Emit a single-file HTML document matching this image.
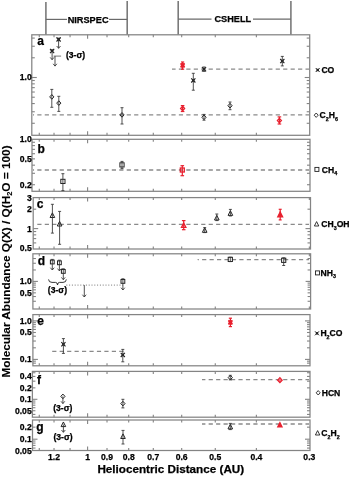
<!DOCTYPE html>
<html><head><meta charset="utf-8"><title>Molecular abundances vs heliocentric distance</title>
<style>
html,body{margin:0;padding:0;background:#fff;}
body{width:350px;height:477px;overflow:hidden;}
svg{display:block;font-family:'Liberation Sans', Arial, Helvetica, sans-serif;}
text{stroke:#000;stroke-width:0.25px;}
</style></head><body>
<svg width="350" height="477" viewBox="0 0 350 477">
<rect width="350" height="477" fill="#fff"/>
<line x1="45.90" y1="2.00" x2="45.90" y2="34.80" stroke="#7a7a7a" stroke-width="1.6" />
<line x1="127.20" y1="1.00" x2="127.20" y2="34.80" stroke="#7a7a7a" stroke-width="1.6" />
<line x1="45.90" y1="19.40" x2="67.00" y2="19.40" stroke="#6a6a6a" stroke-width="1.2" />
<line x1="109.00" y1="19.40" x2="127.20" y2="19.40" stroke="#6a6a6a" stroke-width="1.2" />
<text x="88.10" y="22.60" font-size="9.2" font-weight="bold" text-anchor="middle" >NIRSPEC</text>
<line x1="178.20" y1="1.00" x2="178.20" y2="34.80" stroke="#7a7a7a" stroke-width="1.6" />
<line x1="290.90" y1="1.00" x2="290.90" y2="34.80" stroke="#7a7a7a" stroke-width="1.6" />
<line x1="178.20" y1="19.20" x2="211.50" y2="19.20" stroke="#6a6a6a" stroke-width="1.2" />
<line x1="253.00" y1="19.20" x2="290.90" y2="19.20" stroke="#6a6a6a" stroke-width="1.2" />
<text x="232.80" y="22.40" font-size="9.2" font-weight="bold" text-anchor="middle" >CSHELL</text>
<rect x="31.80" y="34.80" width="277.90" height="100.50" fill="none" stroke="#848484" stroke-width="1.25"/>
<line x1="256.37" y1="34.80" x2="256.37" y2="37.30" stroke="#848484" stroke-width="1.1" />
<line x1="256.37" y1="135.30" x2="256.37" y2="132.80" stroke="#848484" stroke-width="1.1" />
<line x1="215.27" y1="34.80" x2="215.27" y2="37.30" stroke="#848484" stroke-width="1.1" />
<line x1="215.27" y1="135.30" x2="215.27" y2="132.80" stroke="#848484" stroke-width="1.1" />
<line x1="181.69" y1="34.80" x2="181.69" y2="37.30" stroke="#848484" stroke-width="1.1" />
<line x1="181.69" y1="135.30" x2="181.69" y2="132.80" stroke="#848484" stroke-width="1.1" />
<line x1="153.29" y1="34.80" x2="153.29" y2="37.30" stroke="#848484" stroke-width="1.1" />
<line x1="153.29" y1="135.30" x2="153.29" y2="132.80" stroke="#848484" stroke-width="1.1" />
<line x1="128.70" y1="34.80" x2="128.70" y2="37.30" stroke="#848484" stroke-width="1.1" />
<line x1="128.70" y1="135.30" x2="128.70" y2="132.80" stroke="#848484" stroke-width="1.1" />
<line x1="107.01" y1="34.80" x2="107.01" y2="37.30" stroke="#848484" stroke-width="1.1" />
<line x1="107.01" y1="135.30" x2="107.01" y2="132.80" stroke="#848484" stroke-width="1.1" />
<line x1="87.60" y1="34.80" x2="87.60" y2="38.80" stroke="#848484" stroke-width="1.1" />
<line x1="87.60" y1="135.30" x2="87.60" y2="131.30" stroke="#848484" stroke-width="1.1" />
<line x1="70.05" y1="34.80" x2="70.05" y2="37.30" stroke="#848484" stroke-width="1.1" />
<line x1="70.05" y1="135.30" x2="70.05" y2="132.80" stroke="#848484" stroke-width="1.1" />
<line x1="54.02" y1="34.80" x2="54.02" y2="37.30" stroke="#848484" stroke-width="1.1" />
<line x1="54.02" y1="135.30" x2="54.02" y2="132.80" stroke="#848484" stroke-width="1.1" />
<line x1="39.28" y1="34.80" x2="39.28" y2="37.30" stroke="#848484" stroke-width="1.1" />
<line x1="39.28" y1="135.30" x2="39.28" y2="132.80" stroke="#848484" stroke-width="1.1" />
<line x1="31.80" y1="123.28" x2="34.80" y2="123.28" stroke="#848484" stroke-width="1.1" />
<line x1="309.70" y1="123.28" x2="306.70" y2="123.28" stroke="#848484" stroke-width="1.1" />
<line x1="31.80" y1="111.75" x2="34.80" y2="111.75" stroke="#848484" stroke-width="1.1" />
<line x1="309.70" y1="111.75" x2="306.70" y2="111.75" stroke="#848484" stroke-width="1.1" />
<line x1="31.80" y1="103.57" x2="34.80" y2="103.57" stroke="#848484" stroke-width="1.1" />
<line x1="309.70" y1="103.57" x2="306.70" y2="103.57" stroke="#848484" stroke-width="1.1" />
<line x1="31.80" y1="97.22" x2="34.80" y2="97.22" stroke="#848484" stroke-width="1.1" />
<line x1="309.70" y1="97.22" x2="306.70" y2="97.22" stroke="#848484" stroke-width="1.1" />
<line x1="31.80" y1="92.03" x2="34.80" y2="92.03" stroke="#848484" stroke-width="1.1" />
<line x1="309.70" y1="92.03" x2="306.70" y2="92.03" stroke="#848484" stroke-width="1.1" />
<line x1="31.80" y1="87.65" x2="34.80" y2="87.65" stroke="#848484" stroke-width="1.1" />
<line x1="309.70" y1="87.65" x2="306.70" y2="87.65" stroke="#848484" stroke-width="1.1" />
<line x1="31.80" y1="83.85" x2="34.80" y2="83.85" stroke="#848484" stroke-width="1.1" />
<line x1="309.70" y1="83.85" x2="306.70" y2="83.85" stroke="#848484" stroke-width="1.1" />
<line x1="31.80" y1="80.50" x2="34.80" y2="80.50" stroke="#848484" stroke-width="1.1" />
<line x1="309.70" y1="80.50" x2="306.70" y2="80.50" stroke="#848484" stroke-width="1.1" />
<line x1="31.80" y1="77.50" x2="36.80" y2="77.50" stroke="#848484" stroke-width="1.1" />
<line x1="309.70" y1="77.50" x2="304.70" y2="77.50" stroke="#848484" stroke-width="1.1" />
<line x1="31.80" y1="57.78" x2="34.80" y2="57.78" stroke="#848484" stroke-width="1.1" />
<line x1="309.70" y1="57.78" x2="306.70" y2="57.78" stroke="#848484" stroke-width="1.1" />
<line x1="31.80" y1="46.25" x2="34.80" y2="46.25" stroke="#848484" stroke-width="1.1" />
<line x1="309.70" y1="46.25" x2="306.70" y2="46.25" stroke="#848484" stroke-width="1.1" />
<line x1="31.80" y1="38.07" x2="34.80" y2="38.07" stroke="#848484" stroke-width="1.1" />
<line x1="309.70" y1="38.07" x2="306.70" y2="38.07" stroke="#848484" stroke-width="1.1" />
<rect x="32.00" y="139.30" width="278.00" height="52.00" fill="none" stroke="#848484" stroke-width="1.25"/>
<line x1="256.37" y1="139.30" x2="256.37" y2="141.80" stroke="#848484" stroke-width="1.1" />
<line x1="256.37" y1="191.30" x2="256.37" y2="188.80" stroke="#848484" stroke-width="1.1" />
<line x1="215.27" y1="139.30" x2="215.27" y2="141.80" stroke="#848484" stroke-width="1.1" />
<line x1="215.27" y1="191.30" x2="215.27" y2="188.80" stroke="#848484" stroke-width="1.1" />
<line x1="181.69" y1="139.30" x2="181.69" y2="141.80" stroke="#848484" stroke-width="1.1" />
<line x1="181.69" y1="191.30" x2="181.69" y2="188.80" stroke="#848484" stroke-width="1.1" />
<line x1="153.29" y1="139.30" x2="153.29" y2="141.80" stroke="#848484" stroke-width="1.1" />
<line x1="153.29" y1="191.30" x2="153.29" y2="188.80" stroke="#848484" stroke-width="1.1" />
<line x1="128.70" y1="139.30" x2="128.70" y2="141.80" stroke="#848484" stroke-width="1.1" />
<line x1="128.70" y1="191.30" x2="128.70" y2="188.80" stroke="#848484" stroke-width="1.1" />
<line x1="107.01" y1="139.30" x2="107.01" y2="141.80" stroke="#848484" stroke-width="1.1" />
<line x1="107.01" y1="191.30" x2="107.01" y2="188.80" stroke="#848484" stroke-width="1.1" />
<line x1="87.60" y1="139.30" x2="87.60" y2="143.30" stroke="#848484" stroke-width="1.1" />
<line x1="87.60" y1="191.30" x2="87.60" y2="187.30" stroke="#848484" stroke-width="1.1" />
<line x1="70.05" y1="139.30" x2="70.05" y2="141.80" stroke="#848484" stroke-width="1.1" />
<line x1="70.05" y1="191.30" x2="70.05" y2="188.80" stroke="#848484" stroke-width="1.1" />
<line x1="54.02" y1="139.30" x2="54.02" y2="141.80" stroke="#848484" stroke-width="1.1" />
<line x1="54.02" y1="191.30" x2="54.02" y2="188.80" stroke="#848484" stroke-width="1.1" />
<line x1="39.28" y1="139.30" x2="39.28" y2="141.80" stroke="#848484" stroke-width="1.1" />
<line x1="39.28" y1="191.30" x2="39.28" y2="188.80" stroke="#848484" stroke-width="1.1" />
<line x1="32.00" y1="184.73" x2="35.00" y2="184.73" stroke="#848484" stroke-width="1.1" />
<line x1="310.00" y1="184.73" x2="307.00" y2="184.73" stroke="#848484" stroke-width="1.1" />
<line x1="32.00" y1="173.29" x2="35.00" y2="173.29" stroke="#848484" stroke-width="1.1" />
<line x1="310.00" y1="173.29" x2="307.00" y2="173.29" stroke="#848484" stroke-width="1.1" />
<line x1="32.00" y1="165.17" x2="35.00" y2="165.17" stroke="#848484" stroke-width="1.1" />
<line x1="310.00" y1="165.17" x2="307.00" y2="165.17" stroke="#848484" stroke-width="1.1" />
<line x1="32.00" y1="158.87" x2="35.00" y2="158.87" stroke="#848484" stroke-width="1.1" />
<line x1="310.00" y1="158.87" x2="307.00" y2="158.87" stroke="#848484" stroke-width="1.1" />
<line x1="32.00" y1="153.72" x2="35.00" y2="153.72" stroke="#848484" stroke-width="1.1" />
<line x1="310.00" y1="153.72" x2="307.00" y2="153.72" stroke="#848484" stroke-width="1.1" />
<line x1="32.00" y1="149.37" x2="35.00" y2="149.37" stroke="#848484" stroke-width="1.1" />
<line x1="310.00" y1="149.37" x2="307.00" y2="149.37" stroke="#848484" stroke-width="1.1" />
<line x1="32.00" y1="145.60" x2="35.00" y2="145.60" stroke="#848484" stroke-width="1.1" />
<line x1="310.00" y1="145.60" x2="307.00" y2="145.60" stroke="#848484" stroke-width="1.1" />
<line x1="32.00" y1="142.27" x2="35.00" y2="142.27" stroke="#848484" stroke-width="1.1" />
<line x1="310.00" y1="142.27" x2="307.00" y2="142.27" stroke="#848484" stroke-width="1.1" />
<rect x="33.20" y="197.60" width="277.30" height="51.40" fill="none" stroke="#848484" stroke-width="1.25"/>
<line x1="309.35" y1="197.60" x2="309.35" y2="200.10" stroke="#848484" stroke-width="1.1" />
<line x1="309.35" y1="249.00" x2="309.35" y2="246.50" stroke="#848484" stroke-width="1.1" />
<line x1="256.37" y1="197.60" x2="256.37" y2="200.10" stroke="#848484" stroke-width="1.1" />
<line x1="256.37" y1="249.00" x2="256.37" y2="246.50" stroke="#848484" stroke-width="1.1" />
<line x1="215.27" y1="197.60" x2="215.27" y2="200.10" stroke="#848484" stroke-width="1.1" />
<line x1="215.27" y1="249.00" x2="215.27" y2="246.50" stroke="#848484" stroke-width="1.1" />
<line x1="181.69" y1="197.60" x2="181.69" y2="200.10" stroke="#848484" stroke-width="1.1" />
<line x1="181.69" y1="249.00" x2="181.69" y2="246.50" stroke="#848484" stroke-width="1.1" />
<line x1="153.29" y1="197.60" x2="153.29" y2="200.10" stroke="#848484" stroke-width="1.1" />
<line x1="153.29" y1="249.00" x2="153.29" y2="246.50" stroke="#848484" stroke-width="1.1" />
<line x1="128.70" y1="197.60" x2="128.70" y2="200.10" stroke="#848484" stroke-width="1.1" />
<line x1="128.70" y1="249.00" x2="128.70" y2="246.50" stroke="#848484" stroke-width="1.1" />
<line x1="107.01" y1="197.60" x2="107.01" y2="200.10" stroke="#848484" stroke-width="1.1" />
<line x1="107.01" y1="249.00" x2="107.01" y2="246.50" stroke="#848484" stroke-width="1.1" />
<line x1="87.60" y1="197.60" x2="87.60" y2="201.60" stroke="#848484" stroke-width="1.1" />
<line x1="87.60" y1="249.00" x2="87.60" y2="245.00" stroke="#848484" stroke-width="1.1" />
<line x1="70.05" y1="197.60" x2="70.05" y2="200.10" stroke="#848484" stroke-width="1.1" />
<line x1="70.05" y1="249.00" x2="70.05" y2="246.50" stroke="#848484" stroke-width="1.1" />
<line x1="54.02" y1="197.60" x2="54.02" y2="200.10" stroke="#848484" stroke-width="1.1" />
<line x1="54.02" y1="249.00" x2="54.02" y2="246.50" stroke="#848484" stroke-width="1.1" />
<line x1="39.28" y1="197.60" x2="39.28" y2="200.10" stroke="#848484" stroke-width="1.1" />
<line x1="39.28" y1="249.00" x2="39.28" y2="246.50" stroke="#848484" stroke-width="1.1" />
<line x1="33.20" y1="242.91" x2="36.20" y2="242.91" stroke="#848484" stroke-width="1.1" />
<line x1="310.50" y1="242.91" x2="307.50" y2="242.91" stroke="#848484" stroke-width="1.1" />
<line x1="33.20" y1="238.59" x2="36.20" y2="238.59" stroke="#848484" stroke-width="1.1" />
<line x1="310.50" y1="238.59" x2="307.50" y2="238.59" stroke="#848484" stroke-width="1.1" />
<line x1="33.20" y1="234.85" x2="36.20" y2="234.85" stroke="#848484" stroke-width="1.1" />
<line x1="310.50" y1="234.85" x2="307.50" y2="234.85" stroke="#848484" stroke-width="1.1" />
<line x1="33.20" y1="231.55" x2="36.20" y2="231.55" stroke="#848484" stroke-width="1.1" />
<line x1="310.50" y1="231.55" x2="307.50" y2="231.55" stroke="#848484" stroke-width="1.1" />
<line x1="33.20" y1="228.60" x2="38.20" y2="228.60" stroke="#848484" stroke-width="1.1" />
<line x1="310.50" y1="228.60" x2="305.50" y2="228.60" stroke="#848484" stroke-width="1.1" />
<line x1="33.20" y1="209.18" x2="36.20" y2="209.18" stroke="#848484" stroke-width="1.1" />
<line x1="310.50" y1="209.18" x2="307.50" y2="209.18" stroke="#848484" stroke-width="1.1" />
<rect x="32.90" y="253.80" width="277.70" height="55.20" fill="none" stroke="#848484" stroke-width="1.25"/>
<line x1="309.35" y1="253.80" x2="309.35" y2="256.30" stroke="#848484" stroke-width="1.1" />
<line x1="309.35" y1="309.00" x2="309.35" y2="306.50" stroke="#848484" stroke-width="1.1" />
<line x1="256.37" y1="253.80" x2="256.37" y2="256.30" stroke="#848484" stroke-width="1.1" />
<line x1="256.37" y1="309.00" x2="256.37" y2="306.50" stroke="#848484" stroke-width="1.1" />
<line x1="215.27" y1="253.80" x2="215.27" y2="256.30" stroke="#848484" stroke-width="1.1" />
<line x1="215.27" y1="309.00" x2="215.27" y2="306.50" stroke="#848484" stroke-width="1.1" />
<line x1="181.69" y1="253.80" x2="181.69" y2="256.30" stroke="#848484" stroke-width="1.1" />
<line x1="181.69" y1="309.00" x2="181.69" y2="306.50" stroke="#848484" stroke-width="1.1" />
<line x1="153.29" y1="253.80" x2="153.29" y2="256.30" stroke="#848484" stroke-width="1.1" />
<line x1="153.29" y1="309.00" x2="153.29" y2="306.50" stroke="#848484" stroke-width="1.1" />
<line x1="128.70" y1="253.80" x2="128.70" y2="256.30" stroke="#848484" stroke-width="1.1" />
<line x1="128.70" y1="309.00" x2="128.70" y2="306.50" stroke="#848484" stroke-width="1.1" />
<line x1="107.01" y1="253.80" x2="107.01" y2="256.30" stroke="#848484" stroke-width="1.1" />
<line x1="107.01" y1="309.00" x2="107.01" y2="306.50" stroke="#848484" stroke-width="1.1" />
<line x1="87.60" y1="253.80" x2="87.60" y2="257.80" stroke="#848484" stroke-width="1.1" />
<line x1="87.60" y1="309.00" x2="87.60" y2="305.00" stroke="#848484" stroke-width="1.1" />
<line x1="70.05" y1="253.80" x2="70.05" y2="256.30" stroke="#848484" stroke-width="1.1" />
<line x1="70.05" y1="309.00" x2="70.05" y2="306.50" stroke="#848484" stroke-width="1.1" />
<line x1="54.02" y1="253.80" x2="54.02" y2="256.30" stroke="#848484" stroke-width="1.1" />
<line x1="54.02" y1="309.00" x2="54.02" y2="306.50" stroke="#848484" stroke-width="1.1" />
<line x1="39.28" y1="253.80" x2="39.28" y2="256.30" stroke="#848484" stroke-width="1.1" />
<line x1="39.28" y1="309.00" x2="39.28" y2="306.50" stroke="#848484" stroke-width="1.1" />
<line x1="32.90" y1="301.27" x2="35.90" y2="301.27" stroke="#848484" stroke-width="1.1" />
<line x1="310.60" y1="301.27" x2="307.60" y2="301.27" stroke="#848484" stroke-width="1.1" />
<line x1="32.90" y1="296.52" x2="35.90" y2="296.52" stroke="#848484" stroke-width="1.1" />
<line x1="310.60" y1="296.52" x2="307.60" y2="296.52" stroke="#848484" stroke-width="1.1" />
<line x1="32.90" y1="292.84" x2="35.90" y2="292.84" stroke="#848484" stroke-width="1.1" />
<line x1="310.60" y1="292.84" x2="307.60" y2="292.84" stroke="#848484" stroke-width="1.1" />
<line x1="32.90" y1="289.83" x2="35.90" y2="289.83" stroke="#848484" stroke-width="1.1" />
<line x1="310.60" y1="289.83" x2="307.60" y2="289.83" stroke="#848484" stroke-width="1.1" />
<line x1="32.90" y1="287.29" x2="35.90" y2="287.29" stroke="#848484" stroke-width="1.1" />
<line x1="310.60" y1="287.29" x2="307.60" y2="287.29" stroke="#848484" stroke-width="1.1" />
<line x1="32.90" y1="285.08" x2="35.90" y2="285.08" stroke="#848484" stroke-width="1.1" />
<line x1="310.60" y1="285.08" x2="307.60" y2="285.08" stroke="#848484" stroke-width="1.1" />
<line x1="32.90" y1="283.14" x2="35.90" y2="283.14" stroke="#848484" stroke-width="1.1" />
<line x1="310.60" y1="283.14" x2="307.60" y2="283.14" stroke="#848484" stroke-width="1.1" />
<line x1="32.90" y1="281.40" x2="37.90" y2="281.40" stroke="#848484" stroke-width="1.1" />
<line x1="310.60" y1="281.40" x2="305.60" y2="281.40" stroke="#848484" stroke-width="1.1" />
<line x1="32.90" y1="269.96" x2="35.90" y2="269.96" stroke="#848484" stroke-width="1.1" />
<line x1="310.60" y1="269.96" x2="307.60" y2="269.96" stroke="#848484" stroke-width="1.1" />
<line x1="32.90" y1="263.27" x2="35.90" y2="263.27" stroke="#848484" stroke-width="1.1" />
<line x1="310.60" y1="263.27" x2="307.60" y2="263.27" stroke="#848484" stroke-width="1.1" />
<line x1="32.90" y1="258.52" x2="35.90" y2="258.52" stroke="#848484" stroke-width="1.1" />
<line x1="310.60" y1="258.52" x2="307.60" y2="258.52" stroke="#848484" stroke-width="1.1" />
<rect x="32.90" y="314.60" width="277.10" height="51.20" fill="none" stroke="#848484" stroke-width="1.25"/>
<line x1="256.37" y1="314.60" x2="256.37" y2="317.10" stroke="#848484" stroke-width="1.1" />
<line x1="256.37" y1="365.80" x2="256.37" y2="363.30" stroke="#848484" stroke-width="1.1" />
<line x1="215.27" y1="314.60" x2="215.27" y2="317.10" stroke="#848484" stroke-width="1.1" />
<line x1="215.27" y1="365.80" x2="215.27" y2="363.30" stroke="#848484" stroke-width="1.1" />
<line x1="181.69" y1="314.60" x2="181.69" y2="317.10" stroke="#848484" stroke-width="1.1" />
<line x1="181.69" y1="365.80" x2="181.69" y2="363.30" stroke="#848484" stroke-width="1.1" />
<line x1="153.29" y1="314.60" x2="153.29" y2="317.10" stroke="#848484" stroke-width="1.1" />
<line x1="153.29" y1="365.80" x2="153.29" y2="363.30" stroke="#848484" stroke-width="1.1" />
<line x1="128.70" y1="314.60" x2="128.70" y2="317.10" stroke="#848484" stroke-width="1.1" />
<line x1="128.70" y1="365.80" x2="128.70" y2="363.30" stroke="#848484" stroke-width="1.1" />
<line x1="107.01" y1="314.60" x2="107.01" y2="317.10" stroke="#848484" stroke-width="1.1" />
<line x1="107.01" y1="365.80" x2="107.01" y2="363.30" stroke="#848484" stroke-width="1.1" />
<line x1="87.60" y1="314.60" x2="87.60" y2="318.60" stroke="#848484" stroke-width="1.1" />
<line x1="87.60" y1="365.80" x2="87.60" y2="361.80" stroke="#848484" stroke-width="1.1" />
<line x1="70.05" y1="314.60" x2="70.05" y2="317.10" stroke="#848484" stroke-width="1.1" />
<line x1="70.05" y1="365.80" x2="70.05" y2="363.30" stroke="#848484" stroke-width="1.1" />
<line x1="54.02" y1="314.60" x2="54.02" y2="317.10" stroke="#848484" stroke-width="1.1" />
<line x1="54.02" y1="365.80" x2="54.02" y2="363.30" stroke="#848484" stroke-width="1.1" />
<line x1="39.28" y1="314.60" x2="39.28" y2="317.10" stroke="#848484" stroke-width="1.1" />
<line x1="39.28" y1="365.80" x2="39.28" y2="363.30" stroke="#848484" stroke-width="1.1" />
<line x1="32.90" y1="363.13" x2="35.90" y2="363.13" stroke="#848484" stroke-width="1.1" />
<line x1="310.00" y1="363.13" x2="307.00" y2="363.13" stroke="#848484" stroke-width="1.1" />
<line x1="32.90" y1="361.16" x2="35.90" y2="361.16" stroke="#848484" stroke-width="1.1" />
<line x1="310.00" y1="361.16" x2="307.00" y2="361.16" stroke="#848484" stroke-width="1.1" />
<line x1="32.90" y1="359.40" x2="37.90" y2="359.40" stroke="#848484" stroke-width="1.1" />
<line x1="310.00" y1="359.40" x2="305.00" y2="359.40" stroke="#848484" stroke-width="1.1" />
<line x1="32.90" y1="347.81" x2="35.90" y2="347.81" stroke="#848484" stroke-width="1.1" />
<line x1="310.00" y1="347.81" x2="307.00" y2="347.81" stroke="#848484" stroke-width="1.1" />
<line x1="32.90" y1="341.03" x2="35.90" y2="341.03" stroke="#848484" stroke-width="1.1" />
<line x1="310.00" y1="341.03" x2="307.00" y2="341.03" stroke="#848484" stroke-width="1.1" />
<line x1="32.90" y1="336.22" x2="35.90" y2="336.22" stroke="#848484" stroke-width="1.1" />
<line x1="310.00" y1="336.22" x2="307.00" y2="336.22" stroke="#848484" stroke-width="1.1" />
<line x1="32.90" y1="332.49" x2="35.90" y2="332.49" stroke="#848484" stroke-width="1.1" />
<line x1="310.00" y1="332.49" x2="307.00" y2="332.49" stroke="#848484" stroke-width="1.1" />
<line x1="32.90" y1="329.44" x2="35.90" y2="329.44" stroke="#848484" stroke-width="1.1" />
<line x1="310.00" y1="329.44" x2="307.00" y2="329.44" stroke="#848484" stroke-width="1.1" />
<line x1="32.90" y1="326.86" x2="35.90" y2="326.86" stroke="#848484" stroke-width="1.1" />
<line x1="310.00" y1="326.86" x2="307.00" y2="326.86" stroke="#848484" stroke-width="1.1" />
<line x1="32.90" y1="324.63" x2="35.90" y2="324.63" stroke="#848484" stroke-width="1.1" />
<line x1="310.00" y1="324.63" x2="307.00" y2="324.63" stroke="#848484" stroke-width="1.1" />
<line x1="32.90" y1="322.66" x2="35.90" y2="322.66" stroke="#848484" stroke-width="1.1" />
<line x1="310.00" y1="322.66" x2="307.00" y2="322.66" stroke="#848484" stroke-width="1.1" />
<line x1="32.90" y1="320.90" x2="37.90" y2="320.90" stroke="#848484" stroke-width="1.1" />
<line x1="310.00" y1="320.90" x2="305.00" y2="320.90" stroke="#848484" stroke-width="1.1" />
<rect x="32.40" y="371.40" width="277.60" height="45.80" fill="none" stroke="#848484" stroke-width="1.25"/>
<line x1="256.37" y1="371.40" x2="256.37" y2="373.90" stroke="#848484" stroke-width="1.1" />
<line x1="256.37" y1="417.20" x2="256.37" y2="414.70" stroke="#848484" stroke-width="1.1" />
<line x1="215.27" y1="371.40" x2="215.27" y2="373.90" stroke="#848484" stroke-width="1.1" />
<line x1="215.27" y1="417.20" x2="215.27" y2="414.70" stroke="#848484" stroke-width="1.1" />
<line x1="181.69" y1="371.40" x2="181.69" y2="373.90" stroke="#848484" stroke-width="1.1" />
<line x1="181.69" y1="417.20" x2="181.69" y2="414.70" stroke="#848484" stroke-width="1.1" />
<line x1="153.29" y1="371.40" x2="153.29" y2="373.90" stroke="#848484" stroke-width="1.1" />
<line x1="153.29" y1="417.20" x2="153.29" y2="414.70" stroke="#848484" stroke-width="1.1" />
<line x1="128.70" y1="371.40" x2="128.70" y2="373.90" stroke="#848484" stroke-width="1.1" />
<line x1="128.70" y1="417.20" x2="128.70" y2="414.70" stroke="#848484" stroke-width="1.1" />
<line x1="107.01" y1="371.40" x2="107.01" y2="373.90" stroke="#848484" stroke-width="1.1" />
<line x1="107.01" y1="417.20" x2="107.01" y2="414.70" stroke="#848484" stroke-width="1.1" />
<line x1="87.60" y1="371.40" x2="87.60" y2="375.40" stroke="#848484" stroke-width="1.1" />
<line x1="87.60" y1="417.20" x2="87.60" y2="413.20" stroke="#848484" stroke-width="1.1" />
<line x1="70.05" y1="371.40" x2="70.05" y2="373.90" stroke="#848484" stroke-width="1.1" />
<line x1="70.05" y1="417.20" x2="70.05" y2="414.70" stroke="#848484" stroke-width="1.1" />
<line x1="54.02" y1="371.40" x2="54.02" y2="373.90" stroke="#848484" stroke-width="1.1" />
<line x1="54.02" y1="417.20" x2="54.02" y2="414.70" stroke="#848484" stroke-width="1.1" />
<line x1="39.28" y1="371.40" x2="39.28" y2="373.90" stroke="#848484" stroke-width="1.1" />
<line x1="39.28" y1="417.20" x2="39.28" y2="414.70" stroke="#848484" stroke-width="1.1" />
<line x1="32.40" y1="414.42" x2="35.40" y2="414.42" stroke="#848484" stroke-width="1.1" />
<line x1="310.00" y1="414.42" x2="307.00" y2="414.42" stroke="#848484" stroke-width="1.1" />
<line x1="32.40" y1="410.74" x2="35.40" y2="410.74" stroke="#848484" stroke-width="1.1" />
<line x1="310.00" y1="410.74" x2="307.00" y2="410.74" stroke="#848484" stroke-width="1.1" />
<line x1="32.40" y1="407.73" x2="35.40" y2="407.73" stroke="#848484" stroke-width="1.1" />
<line x1="310.00" y1="407.73" x2="307.00" y2="407.73" stroke="#848484" stroke-width="1.1" />
<line x1="32.40" y1="405.19" x2="35.40" y2="405.19" stroke="#848484" stroke-width="1.1" />
<line x1="310.00" y1="405.19" x2="307.00" y2="405.19" stroke="#848484" stroke-width="1.1" />
<line x1="32.40" y1="402.98" x2="35.40" y2="402.98" stroke="#848484" stroke-width="1.1" />
<line x1="310.00" y1="402.98" x2="307.00" y2="402.98" stroke="#848484" stroke-width="1.1" />
<line x1="32.40" y1="401.04" x2="35.40" y2="401.04" stroke="#848484" stroke-width="1.1" />
<line x1="310.00" y1="401.04" x2="307.00" y2="401.04" stroke="#848484" stroke-width="1.1" />
<line x1="32.40" y1="399.30" x2="37.40" y2="399.30" stroke="#848484" stroke-width="1.1" />
<line x1="310.00" y1="399.30" x2="305.00" y2="399.30" stroke="#848484" stroke-width="1.1" />
<line x1="32.40" y1="387.86" x2="35.40" y2="387.86" stroke="#848484" stroke-width="1.1" />
<line x1="310.00" y1="387.86" x2="307.00" y2="387.86" stroke="#848484" stroke-width="1.1" />
<line x1="32.40" y1="381.17" x2="35.40" y2="381.17" stroke="#848484" stroke-width="1.1" />
<line x1="310.00" y1="381.17" x2="307.00" y2="381.17" stroke="#848484" stroke-width="1.1" />
<line x1="32.40" y1="376.42" x2="35.40" y2="376.42" stroke="#848484" stroke-width="1.1" />
<line x1="310.00" y1="376.42" x2="307.00" y2="376.42" stroke="#848484" stroke-width="1.1" />
<line x1="32.40" y1="372.74" x2="35.40" y2="372.74" stroke="#848484" stroke-width="1.1" />
<line x1="310.00" y1="372.74" x2="307.00" y2="372.74" stroke="#848484" stroke-width="1.1" />
<rect x="32.50" y="420.00" width="277.50" height="30.50" fill="none" stroke="#848484" stroke-width="1.25"/>
<line x1="256.37" y1="420.00" x2="256.37" y2="422.50" stroke="#848484" stroke-width="1.1" />
<line x1="256.37" y1="450.50" x2="256.37" y2="448.00" stroke="#848484" stroke-width="1.1" />
<line x1="215.27" y1="420.00" x2="215.27" y2="422.50" stroke="#848484" stroke-width="1.1" />
<line x1="215.27" y1="450.50" x2="215.27" y2="448.00" stroke="#848484" stroke-width="1.1" />
<line x1="181.69" y1="420.00" x2="181.69" y2="422.50" stroke="#848484" stroke-width="1.1" />
<line x1="181.69" y1="450.50" x2="181.69" y2="448.00" stroke="#848484" stroke-width="1.1" />
<line x1="153.29" y1="420.00" x2="153.29" y2="422.50" stroke="#848484" stroke-width="1.1" />
<line x1="153.29" y1="450.50" x2="153.29" y2="448.00" stroke="#848484" stroke-width="1.1" />
<line x1="128.70" y1="420.00" x2="128.70" y2="422.50" stroke="#848484" stroke-width="1.1" />
<line x1="128.70" y1="450.50" x2="128.70" y2="448.00" stroke="#848484" stroke-width="1.1" />
<line x1="107.01" y1="420.00" x2="107.01" y2="422.50" stroke="#848484" stroke-width="1.1" />
<line x1="107.01" y1="450.50" x2="107.01" y2="448.00" stroke="#848484" stroke-width="1.1" />
<line x1="87.60" y1="420.00" x2="87.60" y2="424.00" stroke="#848484" stroke-width="1.1" />
<line x1="87.60" y1="450.50" x2="87.60" y2="446.50" stroke="#848484" stroke-width="1.1" />
<line x1="70.05" y1="420.00" x2="70.05" y2="422.50" stroke="#848484" stroke-width="1.1" />
<line x1="70.05" y1="450.50" x2="70.05" y2="448.00" stroke="#848484" stroke-width="1.1" />
<line x1="54.02" y1="420.00" x2="54.02" y2="422.50" stroke="#848484" stroke-width="1.1" />
<line x1="54.02" y1="450.50" x2="54.02" y2="448.00" stroke="#848484" stroke-width="1.1" />
<line x1="39.28" y1="420.00" x2="39.28" y2="422.50" stroke="#848484" stroke-width="1.1" />
<line x1="39.28" y1="450.50" x2="39.28" y2="448.00" stroke="#848484" stroke-width="1.1" />
<line x1="32.50" y1="448.07" x2="35.50" y2="448.07" stroke="#848484" stroke-width="1.1" />
<line x1="310.00" y1="448.07" x2="307.00" y2="448.07" stroke="#848484" stroke-width="1.1" />
<line x1="32.50" y1="445.40" x2="35.50" y2="445.40" stroke="#848484" stroke-width="1.1" />
<line x1="310.00" y1="445.40" x2="307.00" y2="445.40" stroke="#848484" stroke-width="1.1" />
<line x1="32.50" y1="443.08" x2="35.50" y2="443.08" stroke="#848484" stroke-width="1.1" />
<line x1="310.00" y1="443.08" x2="307.00" y2="443.08" stroke="#848484" stroke-width="1.1" />
<line x1="32.50" y1="441.03" x2="35.50" y2="441.03" stroke="#848484" stroke-width="1.1" />
<line x1="310.00" y1="441.03" x2="307.00" y2="441.03" stroke="#848484" stroke-width="1.1" />
<line x1="32.50" y1="439.20" x2="37.50" y2="439.20" stroke="#848484" stroke-width="1.1" />
<line x1="310.00" y1="439.20" x2="305.00" y2="439.20" stroke="#848484" stroke-width="1.1" />
<line x1="32.50" y1="427.16" x2="35.50" y2="427.16" stroke="#848484" stroke-width="1.1" />
<line x1="310.00" y1="427.16" x2="307.00" y2="427.16" stroke="#848484" stroke-width="1.1" />
<text x="37.20" y="45.00" font-size="12.0" font-weight="bold" text-anchor="start" >a</text>
<text x="37.40" y="153.00" font-size="12.0" font-weight="bold" text-anchor="start" >b</text>
<text x="36.80" y="208.00" font-size="12.0" font-weight="bold" text-anchor="start" >c</text>
<text x="37.80" y="265.30" font-size="12.0" font-weight="bold" text-anchor="start" >d</text>
<text x="37.20" y="324.50" font-size="12.0" font-weight="bold" text-anchor="start" >e</text>
<text x="37.00" y="383.50" font-size="12.0" font-weight="bold" text-anchor="start" >f</text>
<text x="36.20" y="431.00" font-size="12.0" font-weight="bold" text-anchor="start" >g</text>
<text x="31.70" y="80.40" font-size="8.6" font-weight="bold" text-anchor="end" >1.0</text>
<text x="31.70" y="142.20" font-size="8.6" font-weight="bold" text-anchor="end" >1.0</text>
<text x="31.70" y="161.77" font-size="8.6" font-weight="bold" text-anchor="end" >0.5</text>
<text x="31.70" y="187.63" font-size="8.6" font-weight="bold" text-anchor="end" >0.2</text>
<text x="31.70" y="200.73" font-size="8.6" font-weight="bold" text-anchor="end" >3</text>
<text x="31.70" y="212.08" font-size="8.6" font-weight="bold" text-anchor="end" >2</text>
<text x="31.70" y="231.50" font-size="8.6" font-weight="bold" text-anchor="end" >1</text>
<text x="31.70" y="250.92" font-size="8.6" font-weight="bold" text-anchor="end" >0.5</text>
<text x="31.70" y="284.30" font-size="8.6" font-weight="bold" text-anchor="end" >1.0</text>
<text x="31.70" y="295.74" font-size="8.6" font-weight="bold" text-anchor="end" >0.5</text>
<text x="31.70" y="323.80" font-size="8.6" font-weight="bold" text-anchor="end" >1.0</text>
<text x="31.70" y="335.39" font-size="8.6" font-weight="bold" text-anchor="end" >0.5</text>
<text x="31.70" y="362.30" font-size="8.6" font-weight="bold" text-anchor="end" >0.1</text>
<text x="31.70" y="379.32" font-size="8.6" font-weight="bold" text-anchor="end" >0.4</text>
<text x="31.70" y="390.76" font-size="8.6" font-weight="bold" text-anchor="end" >0.2</text>
<text x="31.70" y="402.20" font-size="8.6" font-weight="bold" text-anchor="end" >0.1</text>
<text x="31.70" y="413.64" font-size="8.6" font-weight="bold" text-anchor="end" >0.05</text>
<text x="31.70" y="430.06" font-size="8.6" font-weight="bold" text-anchor="end" >0.2</text>
<text x="31.70" y="442.10" font-size="8.6" font-weight="bold" text-anchor="end" >0.1</text>
<text x="31.70" y="454.14" font-size="8.6" font-weight="bold" text-anchor="end" >0.05</text>
<text x="54.02" y="460.20" font-size="8.6" font-weight="bold" text-anchor="middle" >1.2</text>
<text x="87.60" y="460.20" font-size="8.6" font-weight="bold" text-anchor="middle" >1</text>
<text x="107.01" y="460.20" font-size="8.6" font-weight="bold" text-anchor="middle" >0.9</text>
<text x="128.70" y="460.20" font-size="8.6" font-weight="bold" text-anchor="middle" >0.8</text>
<text x="153.29" y="460.20" font-size="8.6" font-weight="bold" text-anchor="middle" >0.7</text>
<text x="181.69" y="460.20" font-size="8.6" font-weight="bold" text-anchor="middle" >0.6</text>
<text x="215.27" y="460.20" font-size="8.6" font-weight="bold" text-anchor="middle" >0.5</text>
<text x="256.37" y="460.20" font-size="8.6" font-weight="bold" text-anchor="middle" >0.4</text>
<text x="309.35" y="460.20" font-size="8.6" font-weight="bold" text-anchor="middle" >0.3</text>
<text x="97.40" y="473.10" font-size="11.7" font-weight="bold" text-anchor="start" >Heliocentric Distance (AU)</text>
<text transform="translate(9.8,261.5) rotate(-90)" font-size="11.8" font-weight="bold" text-anchor="middle" style="stroke-width:0.1px">Molecular Abundance Q(X) / Q(H<tspan font-size="7.5" dy="2.6">2</tspan><tspan dy="-2.6">O = 100)</tspan></text>
<path d="M315.70,68.00L319.70,72.00M315.70,72.00L319.70,68.00" stroke="#222" stroke-width="0.9900000000000001" fill="none"/><rect x="316.50" y="68.80" width="2.4" height="2.4" fill="#222"/>
<text x="321.40" y="73.10" font-size="8.6" font-weight="bold" text-anchor="start" >CO</text>
<path d="M316.20,113.00L318.20,115.20L316.20,117.40L314.20,115.20Z" stroke="#222" stroke-width="0.9" fill="none"/>
<text x="319.60" y="118.30" font-size="8.6" font-weight="bold" text-anchor="start" >C<tspan font-size="5.3" dy="2.4">2</tspan><tspan dy="-2.4">H</tspan><tspan font-size="5.3" dy="2.4">6</tspan></text>
<rect x="314.90" y="167.40" width="4.00" height="4.00" stroke="#222" stroke-width="0.9" fill="none"/>
<text x="321.80" y="172.50" font-size="8.6" font-weight="bold" text-anchor="start" >CH<tspan font-size="5.3" dy="2.4">4</tspan></text>
<path d="M316.60,221.60L318.80,226.00L314.40,226.00Z" stroke="#222" stroke-width="0.9" fill="none"/>
<text x="321.30" y="227.10" font-size="8.6" font-weight="bold" text-anchor="start" >CH<tspan font-size="5.3" dy="2.4">3</tspan><tspan dy="-2.4">OH</tspan></text>
<rect x="315.50" y="270.90" width="4.00" height="4.00" stroke="#222" stroke-width="0.9" fill="none"/>
<text x="320.60" y="276.00" font-size="8.6" font-weight="bold" text-anchor="start" >NH<tspan font-size="5.3" dy="2.4">3</tspan></text>
<path d="M315.00,331.30L319.00,335.30M315.00,335.30L319.00,331.30" stroke="#222" stroke-width="0.9900000000000001" fill="none"/><rect x="315.80" y="332.10" width="2.4" height="2.4" fill="#222"/>
<text x="320.40" y="336.40" font-size="8.6" font-weight="bold" text-anchor="start" >H<tspan font-size="5.3" dy="2.4">2</tspan><tspan dy="-2.4">CO</tspan></text>
<path d="M318.20,390.60L320.20,392.80L318.20,395.00L316.20,392.80Z" stroke="#222" stroke-width="0.9" fill="none"/>
<text x="321.70" y="395.90" font-size="8.6" font-weight="bold" text-anchor="start" >HCN</text>
<path d="M317.60,430.60L319.80,435.00L315.40,435.00Z" stroke="#222" stroke-width="0.9" fill="none"/>
<text x="321.30" y="436.10" font-size="8.6" font-weight="bold" text-anchor="start" >C<tspan font-size="5.3" dy="2.4">2</tspan><tspan dy="-2.4">H</tspan><tspan font-size="5.3" dy="2.4">2</tspan></text>
<line x1="172.00" y1="69.20" x2="309.00" y2="69.20" stroke="#8a8a8a" stroke-width="1.3" stroke-dasharray="4.2 3.25" stroke-dashoffset="0.60"/>
<line x1="33.00" y1="114.90" x2="309.00" y2="114.90" stroke="#8a8a8a" stroke-width="1.3" stroke-dasharray="4.2 3.25" stroke-dashoffset="3.15"/>
<path d="M56.50,37.30L60.70,41.50M56.50,41.50L60.70,37.30" stroke="#222" stroke-width="1.1" fill="none"/><rect x="57.40" y="38.20" width="2.4" height="2.4" fill="#222"/>
<line x1="58.60" y1="39.40" x2="58.60" y2="48.30" stroke="#333" stroke-width="0.85" />
<polyline points="56.70,46.00 58.60,48.30 60.50,46.00" fill="none" stroke="#333" stroke-width="0.85"/>
<line x1="56.60" y1="38.20" x2="60.60" y2="38.20" stroke="#222" stroke-width="0.9" />
<path d="M50.00,48.90L54.20,53.10M50.00,53.10L54.20,48.90" stroke="#222" stroke-width="1.1" fill="none"/><rect x="50.90" y="49.80" width="2.4" height="2.4" fill="#222"/>
<line x1="52.10" y1="51.00" x2="52.10" y2="59.70" stroke="#333" stroke-width="0.85" />
<polyline points="50.20,57.40 52.10,59.70 54.00,57.40" fill="none" stroke="#333" stroke-width="0.85"/>
<line x1="50.10" y1="49.90" x2="54.10" y2="49.90" stroke="#222" stroke-width="0.9" />
<line x1="53.60" y1="56.10" x2="61.10" y2="56.10" stroke="#666" stroke-width="0.9" />
<line x1="55.00" y1="56.10" x2="55.00" y2="66.10" stroke="#333" stroke-width="0.85" />
<polyline points="53.10,63.80 55.00,66.10 56.90,63.80" fill="none" stroke="#333" stroke-width="0.85"/>
<text x="65.90" y="58.10" font-size="8.6" font-weight="bold" text-anchor="start" >(3-σ)</text>
<path d="M51.80,94.59L53.90,96.90L51.80,99.21L49.70,96.90Z" stroke="#222" stroke-width="1.0" fill="none"/>
<line x1="51.80" y1="89.40" x2="51.80" y2="107.30" stroke="#333" stroke-width="0.85" />
<line x1="50.30" y1="89.40" x2="53.30" y2="89.40" stroke="#333" stroke-width="0.85" />
<line x1="50.30" y1="107.30" x2="53.30" y2="107.30" stroke="#333" stroke-width="0.85" />
<path d="M58.80,100.79L60.90,103.10L58.80,105.41L56.70,103.10Z" stroke="#222" stroke-width="1.0" fill="none"/>
<line x1="58.80" y1="96.30" x2="58.80" y2="111.40" stroke="#333" stroke-width="0.85" />
<line x1="57.30" y1="96.30" x2="60.30" y2="96.30" stroke="#333" stroke-width="0.85" />
<line x1="57.30" y1="111.40" x2="60.30" y2="111.40" stroke="#333" stroke-width="0.85" />
<path d="M122.00,112.59L124.10,114.90L122.00,117.21L119.90,114.90Z" stroke="#222" stroke-width="1.0" fill="none"/>
<line x1="122.00" y1="107.70" x2="122.00" y2="124.00" stroke="#333" stroke-width="0.85" />
<line x1="120.50" y1="107.70" x2="123.50" y2="107.70" stroke="#333" stroke-width="0.85" />
<line x1="120.50" y1="124.00" x2="123.50" y2="124.00" stroke="#333" stroke-width="0.85" />
<path d="M180.60,63.30L184.60,67.30M180.60,67.30L184.60,63.30" stroke="#e8202e" stroke-width="1.6500000000000001" fill="none"/><rect x="181.40" y="64.10" width="2.4" height="2.4" fill="#e8202e"/>
<rect x="180.8" y="63.3" width="3.6" height="4" fill="#e8202e"/>
<line x1="182.60" y1="62.00" x2="182.60" y2="69.20" stroke="#e8202e" stroke-width="1.2" />
<line x1="181.00" y1="62.00" x2="184.20" y2="62.00" stroke="#e8202e" stroke-width="1.2" />
<line x1="181.00" y1="69.20" x2="184.20" y2="69.20" stroke="#e8202e" stroke-width="1.2" />
<path d="M201.90,67.10L206.10,71.30M201.90,71.30L206.10,67.10" stroke="#222" stroke-width="1.1" fill="none"/><rect x="202.80" y="68.00" width="2.4" height="2.4" fill="#222"/>
<line x1="204.00" y1="67.00" x2="204.00" y2="71.40" stroke="#333" stroke-width="0.85" />
<line x1="202.50" y1="67.00" x2="205.50" y2="67.00" stroke="#333" stroke-width="0.85" />
<line x1="202.50" y1="71.40" x2="205.50" y2="71.40" stroke="#333" stroke-width="0.85" />
<path d="M191.20,78.30L195.40,82.50M191.20,82.50L195.40,78.30" stroke="#222" stroke-width="1.1" fill="none"/><rect x="192.10" y="79.20" width="2.4" height="2.4" fill="#222"/>
<line x1="193.30" y1="73.30" x2="193.30" y2="90.20" stroke="#333" stroke-width="0.85" />
<line x1="191.80" y1="73.30" x2="194.80" y2="73.30" stroke="#333" stroke-width="0.85" />
<line x1="191.80" y1="90.20" x2="194.80" y2="90.20" stroke="#333" stroke-width="0.85" />
<path d="M280.20,59.00L284.40,63.20M280.20,63.20L284.40,59.00" stroke="#222" stroke-width="1.1" fill="none"/><rect x="281.10" y="59.90" width="2.4" height="2.4" fill="#222"/>
<line x1="282.30" y1="56.40" x2="282.30" y2="65.90" stroke="#333" stroke-width="0.85" />
<line x1="280.80" y1="56.40" x2="283.80" y2="56.40" stroke="#333" stroke-width="0.85" />
<line x1="280.80" y1="65.90" x2="283.80" y2="65.90" stroke="#333" stroke-width="0.85" />
<path d="M182.60,106.30L184.60,108.50L182.60,110.70L180.60,108.50Z" stroke="#e8202e" stroke-width="1.3" fill="none"/>
<line x1="182.60" y1="105.60" x2="182.60" y2="111.50" stroke="#e8202e" stroke-width="1.2" />
<line x1="180.80" y1="105.60" x2="184.40" y2="105.60" stroke="#e8202e" stroke-width="1.2" />
<line x1="180.80" y1="111.50" x2="184.40" y2="111.50" stroke="#e8202e" stroke-width="1.2" />
<path d="M204.00,114.99L206.10,117.30L204.00,119.61L201.90,117.30Z" stroke="#222" stroke-width="1.0" fill="none"/>
<line x1="204.00" y1="114.40" x2="204.00" y2="120.20" stroke="#333" stroke-width="0.85" />
<line x1="202.50" y1="114.40" x2="205.50" y2="114.40" stroke="#333" stroke-width="0.85" />
<line x1="202.50" y1="120.20" x2="205.50" y2="120.20" stroke="#333" stroke-width="0.85" />
<path d="M230.00,103.39L232.10,105.70L230.00,108.01L227.90,105.70Z" stroke="#222" stroke-width="1.0" fill="none"/>
<line x1="230.00" y1="102.00" x2="230.00" y2="109.70" stroke="#333" stroke-width="0.85" />
<line x1="228.50" y1="102.00" x2="231.50" y2="102.00" stroke="#333" stroke-width="0.85" />
<line x1="228.50" y1="109.70" x2="231.50" y2="109.70" stroke="#333" stroke-width="0.85" />
<path d="M279.40,118.40L281.40,120.60L279.40,122.80L277.40,120.60Z" stroke="#e8202e" stroke-width="1.3" fill="none"/>
<line x1="279.40" y1="116.90" x2="279.40" y2="124.00" stroke="#e8202e" stroke-width="1.2" />
<line x1="277.60" y1="116.90" x2="281.20" y2="116.90" stroke="#e8202e" stroke-width="1.2" />
<line x1="277.60" y1="124.00" x2="281.20" y2="124.00" stroke="#e8202e" stroke-width="1.2" />
<line x1="33.00" y1="170.00" x2="309.00" y2="170.00" stroke="#8a8a8a" stroke-width="1.3" stroke-dasharray="4.2 3.25" stroke-dashoffset="3.15"/>
<rect x="60.80" y="179.30" width="4.20" height="4.20" stroke="#222" stroke-width="1.0" fill="none"/>
<line x1="62.90" y1="173.70" x2="62.90" y2="190.60" stroke="#333" stroke-width="0.85" />
<line x1="61.40" y1="173.70" x2="64.40" y2="173.70" stroke="#333" stroke-width="0.85" />
<line x1="61.40" y1="190.60" x2="64.40" y2="190.60" stroke="#333" stroke-width="0.85" />
<rect x="119.90" y="162.80" width="4.20" height="4.20" stroke="#222" stroke-width="1.0" fill="none"/>
<line x1="122.00" y1="161.40" x2="122.00" y2="168.60" stroke="#333" stroke-width="0.85" />
<line x1="120.50" y1="161.40" x2="123.50" y2="161.40" stroke="#333" stroke-width="0.85" />
<line x1="120.50" y1="168.60" x2="123.50" y2="168.60" stroke="#333" stroke-width="0.85" />
<rect x="180.30" y="168.00" width="4.00" height="4.00" stroke="#e8202e" stroke-width="1.3" fill="none"/>
<line x1="182.30" y1="165.70" x2="182.30" y2="175.70" stroke="#e8202e" stroke-width="1.2" />
<line x1="180.50" y1="165.70" x2="184.10" y2="165.70" stroke="#e8202e" stroke-width="1.2" />
<line x1="180.50" y1="175.70" x2="184.10" y2="175.70" stroke="#e8202e" stroke-width="1.2" />
<line x1="34.00" y1="224.30" x2="309.00" y2="224.30" stroke="#8a8a8a" stroke-width="1.3" stroke-dasharray="4.2 3.25" stroke-dashoffset="4.15"/>
<path d="M52.40,212.88L54.71,217.50L50.09,217.50Z" stroke="#222" stroke-width="1.0" fill="none"/>
<line x1="52.40" y1="204.30" x2="52.40" y2="233.10" stroke="#333" stroke-width="0.85" />
<line x1="50.90" y1="204.30" x2="53.90" y2="204.30" stroke="#333" stroke-width="0.85" />
<line x1="50.90" y1="233.10" x2="53.90" y2="233.10" stroke="#333" stroke-width="0.85" />
<path d="M59.60,221.38L61.91,226.00L57.29,226.00Z" stroke="#222" stroke-width="1.0" fill="none"/>
<line x1="59.60" y1="211.40" x2="59.60" y2="244.30" stroke="#333" stroke-width="0.85" />
<line x1="58.10" y1="211.40" x2="61.10" y2="211.40" stroke="#333" stroke-width="0.85" />
<line x1="58.10" y1="244.30" x2="61.10" y2="244.30" stroke="#333" stroke-width="0.85" />
<path d="M183.70,223.00L185.90,227.40L181.50,227.40Z" stroke="#e8202e" stroke-width="1.3" fill="none"/>
<line x1="183.70" y1="220.60" x2="183.70" y2="229.70" stroke="#e8202e" stroke-width="1.2" />
<line x1="181.90" y1="220.60" x2="185.50" y2="220.60" stroke="#e8202e" stroke-width="1.2" />
<line x1="181.90" y1="229.70" x2="185.50" y2="229.70" stroke="#e8202e" stroke-width="1.2" />
<path d="M204.70,227.68L207.01,232.30L202.39,232.30Z" stroke="#222" stroke-width="1.0" fill="none"/>
<line x1="204.70" y1="227.60" x2="204.70" y2="232.60" stroke="#333" stroke-width="0.85" />
<line x1="203.20" y1="227.60" x2="206.20" y2="227.60" stroke="#333" stroke-width="0.85" />
<line x1="203.20" y1="232.60" x2="206.20" y2="232.60" stroke="#333" stroke-width="0.85" />
<path d="M216.80,215.38L219.11,220.00L214.49,220.00Z" stroke="#222" stroke-width="1.0" fill="none"/>
<line x1="216.80" y1="214.00" x2="216.80" y2="220.60" stroke="#333" stroke-width="0.85" />
<line x1="215.30" y1="214.00" x2="218.30" y2="214.00" stroke="#333" stroke-width="0.85" />
<line x1="215.30" y1="220.60" x2="218.30" y2="220.60" stroke="#333" stroke-width="0.85" />
<path d="M230.40,210.78L232.71,215.40L228.09,215.40Z" stroke="#222" stroke-width="1.0" fill="none"/>
<line x1="230.40" y1="209.40" x2="230.40" y2="216.00" stroke="#333" stroke-width="0.85" />
<line x1="228.90" y1="209.40" x2="231.90" y2="209.40" stroke="#333" stroke-width="0.85" />
<line x1="228.90" y1="216.00" x2="231.90" y2="216.00" stroke="#333" stroke-width="0.85" />
<path d="M280.20,211.96L282.62,216.80L277.78,216.80Z" stroke="#e8202e" stroke-width="1.3" fill="#e8202e"/>
<line x1="280.20" y1="209.30" x2="280.20" y2="219.90" stroke="#e8202e" stroke-width="1.2" />
<line x1="278.70" y1="209.30" x2="281.70" y2="209.30" stroke="#e8202e" stroke-width="1.2" />
<line x1="278.70" y1="219.90" x2="281.70" y2="219.90" stroke="#e8202e" stroke-width="1.2" />
<rect x="50.40" y="260.10" width="3.80" height="3.80" stroke="#222" stroke-width="1.0" fill="none"/>
<line x1="52.30" y1="259.40" x2="52.30" y2="270.00" stroke="#333" stroke-width="0.85" />
<polyline points="50.40,267.70 52.30,270.00 54.20,267.70" fill="none" stroke="#333" stroke-width="0.85"/>
<line x1="50.80" y1="259.40" x2="53.80" y2="259.40" stroke="#333" stroke-width="0.85" />
<rect x="57.50" y="260.90" width="3.80" height="3.80" stroke="#222" stroke-width="1.0" fill="none"/>
<line x1="59.40" y1="260.20" x2="59.40" y2="270.90" stroke="#333" stroke-width="0.85" />
<polyline points="57.50,268.60 59.40,270.90 61.30,268.60" fill="none" stroke="#333" stroke-width="0.85"/>
<line x1="57.90" y1="260.20" x2="60.90" y2="260.20" stroke="#333" stroke-width="0.85" />
<rect x="61.40" y="269.50" width="3.80" height="3.80" stroke="#222" stroke-width="1.0" fill="none"/>
<line x1="63.30" y1="268.80" x2="63.30" y2="279.70" stroke="#333" stroke-width="0.85" />
<polyline points="61.40,277.40 63.30,279.70 65.20,277.40" fill="none" stroke="#333" stroke-width="0.85"/>
<line x1="61.80" y1="268.80" x2="64.80" y2="268.80" stroke="#333" stroke-width="0.85" />
<path d="M48.6,279.4 Q48.6,282.4 52,282.4 L55.5,282.4 Q57.5,282.4 57.5,285 Q57.5,282.4 59.5,282.4 L63,282.4 Q66.3,282.4 66.3,279.4" fill="none" stroke="#222" stroke-width="0.9"/>
<line x1="66.30" y1="285.10" x2="122.90" y2="285.10" stroke="#666" stroke-width="0.9" stroke-dasharray="1 1.8"/>
<text x="47.80" y="293.30" font-size="8.6" font-weight="bold" text-anchor="start" >(3-σ)</text>
<line x1="84.30" y1="285.10" x2="84.30" y2="297.00" stroke="#333" stroke-width="0.85" />
<polyline points="82.40,294.70 84.30,297.00 86.20,294.70" fill="none" stroke="#333" stroke-width="0.85"/>
<rect x="121.00" y="279.50" width="3.80" height="3.80" stroke="#222" stroke-width="1.0" fill="none"/>
<line x1="122.90" y1="278.80" x2="122.90" y2="290.00" stroke="#333" stroke-width="0.85" />
<polyline points="121.00,287.70 122.90,290.00 124.80,287.70" fill="none" stroke="#333" stroke-width="0.85"/>
<line x1="121.40" y1="278.80" x2="124.40" y2="278.80" stroke="#333" stroke-width="0.85" />
<line x1="198.00" y1="259.60" x2="309.00" y2="259.60" stroke="#8a8a8a" stroke-width="1.3" stroke-dasharray="4.2 3.25" stroke-dashoffset="3.35"/>
<line x1="197.00" y1="259.60" x2="197.80" y2="259.60" stroke="#bbb" stroke-width="1.0" />
<rect x="228.20" y="257.30" width="4.20" height="4.20" stroke="#222" stroke-width="1.0" fill="none"/>
<line x1="230.30" y1="257.20" x2="230.30" y2="261.60" stroke="#333" stroke-width="0.85" />
<line x1="228.80" y1="257.20" x2="231.80" y2="257.20" stroke="#333" stroke-width="0.85" />
<line x1="228.80" y1="261.60" x2="231.80" y2="261.60" stroke="#333" stroke-width="0.85" />
<rect x="281.60" y="258.20" width="4.20" height="4.20" stroke="#222" stroke-width="1.0" fill="none"/>
<line x1="283.70" y1="257.80" x2="283.70" y2="265.50" stroke="#333" stroke-width="0.85" />
<line x1="282.20" y1="257.80" x2="285.20" y2="257.80" stroke="#333" stroke-width="0.85" />
<line x1="282.20" y1="265.50" x2="285.20" y2="265.50" stroke="#333" stroke-width="0.85" />
<line x1="51.40" y1="351.40" x2="124.30" y2="351.40" stroke="#8a8a8a" stroke-width="1.3" stroke-dasharray="4.2 3.25" stroke-dashoffset="6.65"/>
<path d="M61.30,342.20L65.50,346.40M61.30,346.40L65.50,342.20" stroke="#222" stroke-width="1.1" fill="none"/><rect x="62.20" y="343.10" width="2.4" height="2.4" fill="#222"/>
<line x1="63.40" y1="338.60" x2="63.40" y2="353.40" stroke="#333" stroke-width="0.85" />
<line x1="61.90" y1="338.60" x2="64.90" y2="338.60" stroke="#333" stroke-width="0.85" />
<line x1="61.90" y1="353.40" x2="64.90" y2="353.40" stroke="#333" stroke-width="0.85" />
<path d="M120.70,352.80L124.90,357.00M120.70,357.00L124.90,352.80" stroke="#222" stroke-width="1.1" fill="none"/><rect x="121.60" y="353.70" width="2.4" height="2.4" fill="#222"/>
<line x1="122.80" y1="349.40" x2="122.80" y2="361.80" stroke="#333" stroke-width="0.85" />
<line x1="121.30" y1="349.40" x2="124.30" y2="349.40" stroke="#333" stroke-width="0.85" />
<line x1="121.30" y1="361.80" x2="124.30" y2="361.80" stroke="#333" stroke-width="0.85" />
<path d="M228.40,320.40L232.40,324.40M228.40,324.40L232.40,320.40" stroke="#e8202e" stroke-width="1.6500000000000001" fill="none"/><rect x="229.20" y="321.20" width="2.4" height="2.4" fill="#e8202e"/>
<rect x="228.6" y="320.4" width="3.6" height="4" fill="#e8202e"/>
<line x1="230.40" y1="318.20" x2="230.40" y2="326.60" stroke="#e8202e" stroke-width="1.2" />
<line x1="228.80" y1="318.20" x2="232.00" y2="318.20" stroke="#e8202e" stroke-width="1.2" />
<line x1="228.80" y1="326.60" x2="232.00" y2="326.60" stroke="#e8202e" stroke-width="1.2" />
<path d="M62.90,394.09L65.00,396.40L62.90,398.71L60.80,396.40Z" stroke="#222" stroke-width="1.0" fill="none"/>
<line x1="62.90" y1="396.40" x2="62.90" y2="403.60" stroke="#333" stroke-width="0.85" />
<polyline points="61.00,401.30 62.90,403.60 64.80,401.30" fill="none" stroke="#333" stroke-width="0.85"/>
<text x="53.20" y="411.10" font-size="8.6" font-weight="bold" text-anchor="start" >(3-σ)</text>
<path d="M122.90,401.29L125.00,403.60L122.90,405.91L120.80,403.60Z" stroke="#222" stroke-width="1.0" fill="none"/>
<line x1="122.90" y1="399.30" x2="122.90" y2="407.90" stroke="#333" stroke-width="0.85" />
<line x1="121.40" y1="399.30" x2="124.40" y2="399.30" stroke="#333" stroke-width="0.85" />
<line x1="121.40" y1="407.90" x2="124.40" y2="407.90" stroke="#333" stroke-width="0.85" />
<line x1="202.00" y1="379.70" x2="309.00" y2="379.70" stroke="#8a8a8a" stroke-width="1.3" stroke-dasharray="4.2 3.25" stroke-dashoffset="0.80"/>
<path d="M230.30,375.29L232.40,377.60L230.30,379.91L228.20,377.60Z" stroke="#222" stroke-width="1.0" fill="none"/>
<line x1="230.30" y1="375.30" x2="230.30" y2="379.90" stroke="#333" stroke-width="0.85" />
<line x1="228.80" y1="375.30" x2="231.80" y2="375.30" stroke="#333" stroke-width="0.85" />
<line x1="228.80" y1="379.90" x2="231.80" y2="379.90" stroke="#333" stroke-width="0.85" />
<path d="M279.90,377.67L282.20,380.20L279.90,382.73L277.60,380.20Z" stroke="#e8202e" stroke-width="1.2" fill="#f07080"/>
<path d="M63.40,421.98L65.71,426.60L61.09,426.60Z" stroke="#222" stroke-width="1.0" fill="none"/>
<line x1="63.40" y1="424.50" x2="63.40" y2="432.30" stroke="#333" stroke-width="0.85" />
<polyline points="61.50,430.00 63.40,432.30 65.30,430.00" fill="none" stroke="#333" stroke-width="0.85"/>
<text x="53.40" y="439.80" font-size="8.6" font-weight="bold" text-anchor="start" >(3-σ)</text>
<path d="M123.00,433.88L125.31,438.50L120.69,438.50Z" stroke="#222" stroke-width="1.0" fill="none"/>
<line x1="123.00" y1="430.40" x2="123.00" y2="444.00" stroke="#333" stroke-width="0.85" />
<line x1="121.50" y1="430.40" x2="124.50" y2="430.40" stroke="#333" stroke-width="0.85" />
<line x1="121.50" y1="444.00" x2="124.50" y2="444.00" stroke="#333" stroke-width="0.85" />
<line x1="202.00" y1="424.00" x2="309.00" y2="424.00" stroke="#8a8a8a" stroke-width="1.3" stroke-dasharray="4.2 3.25" stroke-dashoffset="0.80"/>
<path d="M230.30,424.28L232.61,428.90L227.99,428.90Z" stroke="#222" stroke-width="1.0" fill="none"/>
<line x1="230.30" y1="423.40" x2="230.30" y2="429.60" stroke="#333" stroke-width="0.85" />
<line x1="228.80" y1="423.40" x2="231.80" y2="423.40" stroke="#333" stroke-width="0.85" />
<line x1="228.80" y1="429.60" x2="231.80" y2="429.60" stroke="#333" stroke-width="0.85" />
<path d="M279.90,422.60L282.10,427.00L277.70,427.00Z" stroke="#e8202e" stroke-width="1.2" fill="#e8202e"/>
</svg>
</body></html>
